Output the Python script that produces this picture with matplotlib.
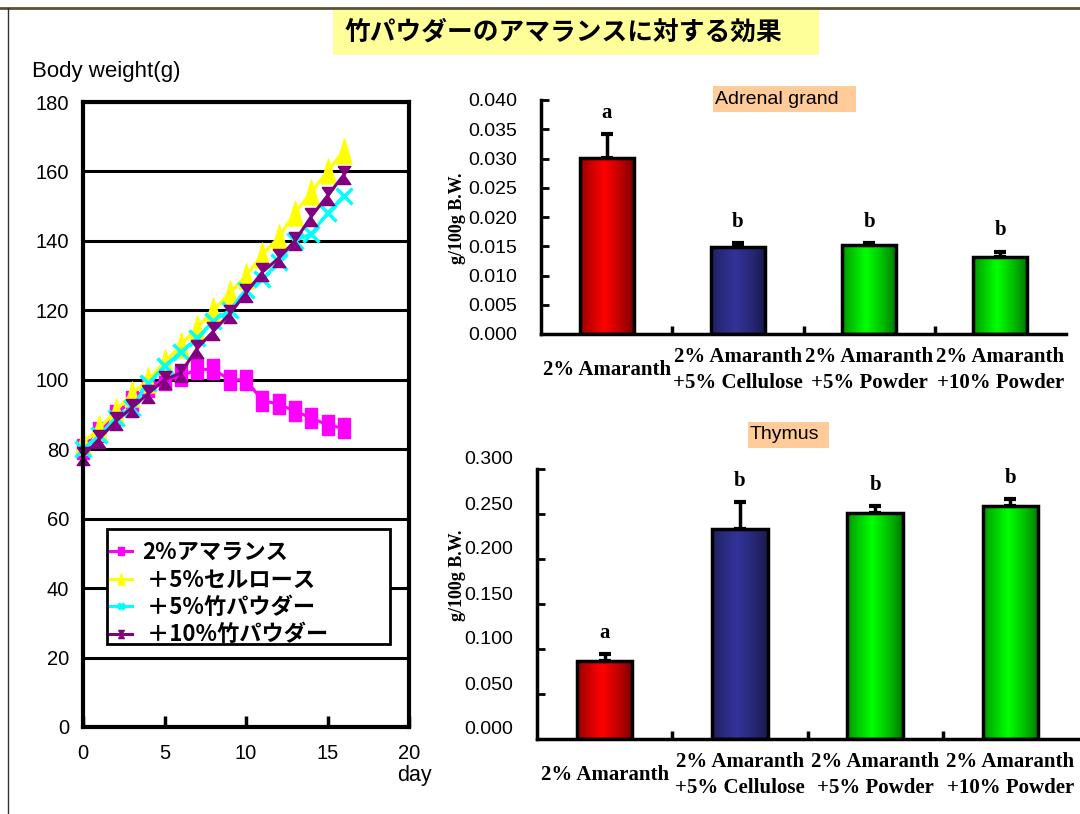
import numpy as np
import matplotlib
matplotlib.use("Agg")
import matplotlib.pyplot as plt
from matplotlib.path import Path
from matplotlib.patches import Rectangle
from matplotlib.lines import Line2D
from matplotlib.transforms import ScaledTranslation

plt.rcParams['font.family'] = ['Liberation Sans', 'Noto Sans CJK JP', 'DejaVu Sans']

# --- data ---
days = list(range(17))
w_amaranth = [80, 85, 90, 94, 98, 100, 101, 103, 103, 100, 100, 94, 93, 91, 89, 87, 86]
w_cellulose = [82, 86, 91, 96, 100, 105, 110, 115, 120, 125, 130, 136, 141, 148, 154, 160, 166]
w_powder5 = [80, 84, 89, 92, 99, 104, 108, 112, 117, 120, 126, 129, 134, 140, 142, 148, 153]
w_powder10 = [78, 83, 88, 92, 96, 100, 102, 109, 114, 119, 125, 131, 135, 140, 147, 153, 159]
line_labels = ["2%アマランス", " ＋5%セルロース", " ＋5%竹パウダー", " ＋10%竹パウダー"]

groups = ["2% Amaranth", "2% Amaranth\n+5% Cellulose",
          "2% Amaranth\n+5% Powder", "2% Amaranth\n+10% Powder"]
adrenal = [0.0301, 0.0148, 0.0152, 0.0131]
adrenal_err = [0.0041, 0.0008, 0.0004, 0.0010]
adrenal_sig = ["a", "b", "b", "b"]
thymus = [0.0862, 0.2337, 0.2507, 0.2589]
thymus_err = [0.0086, 0.0296, 0.0078, 0.0078]
thymus_sig = ["a", "b", "b", "b"]

fig = plt.figure(figsize=(10.8, 8.14), dpi=100)

# frame lines
fig.add_artist(Line2D([0, 1], [1 - 8/814, 1 - 8/814], transform=fig.transFigure, color='#5a5232', lw=2))
fig.add_artist(Line2D([8/1080, 8/1080], [0, 1 - 8/814], transform=fig.transFigure, color='#333333', lw=1))

# title
fig.add_artist(Rectangle((333/1080, 1 - 55/814), 486/1080, 45/814, transform=fig.transFigure,
                         facecolor='#ffff99', edgecolor='none'))
fig.text(345/1080, 1 - 32/814, "竹パウダーのアマランスに対する効果", fontsize=18.5, fontweight='bold',
         family=['Noto Sans CJK JP', 'DejaVu Sans'], va='center', ha='left')

# --- body weight line chart ---
ax1 = fig.add_axes([83/1080, 1 - 727/814, 326/1080, 625/814])
hour = Path([(-0.7, 1), (0.7, 1), (-0.7, -1), (0.7, -1), (-0.7, 1)])
tri = Path([(-0.6, -1), (0.6, -1), (0, 1), (-0.6, -1)])
rect = Path([(-0.6, -1), (0.6, -1), (0.6, 1), (-0.6, 1), (-0.6, -1)])
ax1.plot(days, w_amaranth, color='#ff00ff', lw=2.2, marker=rect, ms=14, label=line_labels[0], clip_on=False)
ax1.plot(days, w_cellulose, color='#ffff00', lw=2.2, marker=tri, ms=18, label=line_labels[1], clip_on=False)
ax1.plot(days, w_powder5, color='#00ffff', lw=2.2, marker='x', ms=11, mew=2.5, label=line_labels[2], clip_on=False)
ax1.plot(days, w_powder10, color='#800080', lw=2.2, marker=hour, ms=13, label=line_labels[3], clip_on=False)
ax1.set_xlim(0, 20)
ax1.set_ylim(0, 180)
ax1.set_yticks(range(0, 181, 20))
ax1.set_xticks([0, 5, 10, 15, 20])
ax1.grid(axis='y', color='k', lw=2.2)
ax1.set_axisbelow(True)
for s in ax1.spines.values():
    s.set_linewidth(3)
ax1.tick_params(axis='y', length=0, pad=10, labelsize=14.5)
ax1.tick_params(axis='x', direction='in', length=8, width=2.5, pad=12, labelsize=14.5)

# legend box (wider than the entries, as in the original)
ax1.add_patch(Rectangle((0.0736, 0.1328), 0.8681, 0.184, transform=ax1.transAxes,
                        facecolor='white', edgecolor='k', lw=2, zorder=4.9))
leg = ax1.legend(loc='upper left', bbox_to_anchor=(0.046, 0.317), borderaxespad=0, frameon=False,
                 prop={'family': ['Noto Sans CJK JP', 'DejaVu Sans'], 'weight': 'bold', 'size': 16},
                 handlelength=1.0, handletextpad=0.45, labelspacing=0.2, markerscale=0.45,
                 borderpad=0.55)
leg.set_zorder(5)

fig.text(32/1080, 1 - 72/814, "Body weight(g)", fontsize=16, va='center', ha='left')
fig.text(414/1080, 1 - 775/814, "day", fontsize=15.5, va='center', ha='center')


def gradient_bars(ax, bars, palette):
    t = np.linspace(0, 1, 80)
    k = np.clip(1 - np.abs(t - 0.45) / 0.55, 0, 1) ** 0.8
    for patch, (dark, bright) in zip(bars, palette):
        dark = np.array(dark)
        bright = np.array(bright)
        col = dark + (bright - dark) * k[:, None]
        x0 = patch.get_x()
        im = ax.imshow(col[None, :, :], extent=[x0, x0 + patch.get_width(), 0, patch.get_height()],
                       aspect='auto', zorder=2, interpolation='bilinear')
        im.set_clip_path(patch)


palette = [((0.45, 0, 0), (1, 0, 0)), ((0.1, 0.1, 0.3), (0.2, 0.2, 0.6)),
           ((0, 0.45, 0), (0, 1, 0)), ((0, 0.45, 0), (0, 1, 0))]


def bar_panel(ax, vals, errs, sig, ymax, step, title, box, label_shift):
    x = np.arange(len(vals))
    bars = ax.bar(x, vals, width=0.41, facecolor='none', edgecolor='k', lw=2.5, zorder=3)
    gradient_bars(ax, bars, palette)
    ax.errorbar(x, vals, yerr=[np.zeros(len(errs)), errs], fmt='none', ecolor='k',
                elinewidth=2.5, capsize=4, capthick=3, zorder=4)
    for xi, v, e, s in zip(x, vals, errs, sig):
        ax.annotate(s, (xi, v + e), xytext=(0, 8), textcoords='offset points', ha='center', va='bottom',
                    family='Liberation Serif', fontweight='bold', fontsize=15)
    ax.set_xlim(-0.5, 3.5)
    ax.set_ylim(0, ymax)
    ax.set_yticks(np.arange(0, ymax + step / 2, step))
    ax.yaxis.set_major_formatter(matplotlib.ticker.FormatStrFormatter('%.3f'))
    ax.set_xticks(x)
    ax.set_xticklabels(groups, family='Liberation Serif', fontweight='bold', fontsize=15, va='center',
                       linespacing=1.35)
    ax.set_xticks([0.5, 1.5, 2.5], minor=True)
    ax.tick_params(axis='x', which='major', length=0, pad=26)
    ax.tick_params(axis='x', which='minor', direction='in', length=6, width=2.5)
    ax.tick_params(axis='y', direction='in', length=6, width=2, labelsize=14, pad=17)
    for sp in ['top', 'right']:
        ax.spines[sp].set_visible(False)
    for sp in ['left', 'bottom']:
        ax.spines[sp].set_linewidth(2.5)
    ax.patch.set_alpha(0)
    if label_shift:
        off = ScaledTranslation(0, label_shift / 100, fig.dpi_scale_trans)
        for lab in ax.get_yticklabels():
            lab.set_transform(lab.get_transform() + off)
    x0, y0, x1, y1 = box
    fig.add_artist(Rectangle((x0/1080, 1 - y1/814), (x1 - x0)/1080, (y1 - y0)/814,
                             transform=fig.transFigure, facecolor='#ffcc99', edgecolor='none'))
    fig.text((x0 + 2)/1080, 1 - (y0 + y1)/2/814, title, fontsize=14, va='center', ha='left')


ax2 = fig.add_axes([541/1080, 1 - 334/814, 525/1080, 234/814])
bar_panel(ax2, adrenal, adrenal_err, adrenal_sig, 0.040, 0.005, "Adrenal grand", (713, 86, 856, 112), 0)
fig.text(458/1080, 1 - 218/814, "g/100g B.W.", rotation=90, family='Liberation Serif',
         fontweight='bold', fontsize=13, va='center', ha='center')

ax3 = fig.add_axes([537/1080, 1 - 739/814, 541/1080, 270/814])
bar_panel(ax3, thymus, thymus_err, thymus_sig, 0.300, 0.050, "Thymus", (748, 422, 829, 448), 11)
fig.text(458/1080, 1 - 575/814, "g/100g B.W.", rotation=90, family='Liberation Serif',
         fontweight='bold', fontsize=13, va='center', ha='center')

fig.savefig("out.png", dpi=100)
